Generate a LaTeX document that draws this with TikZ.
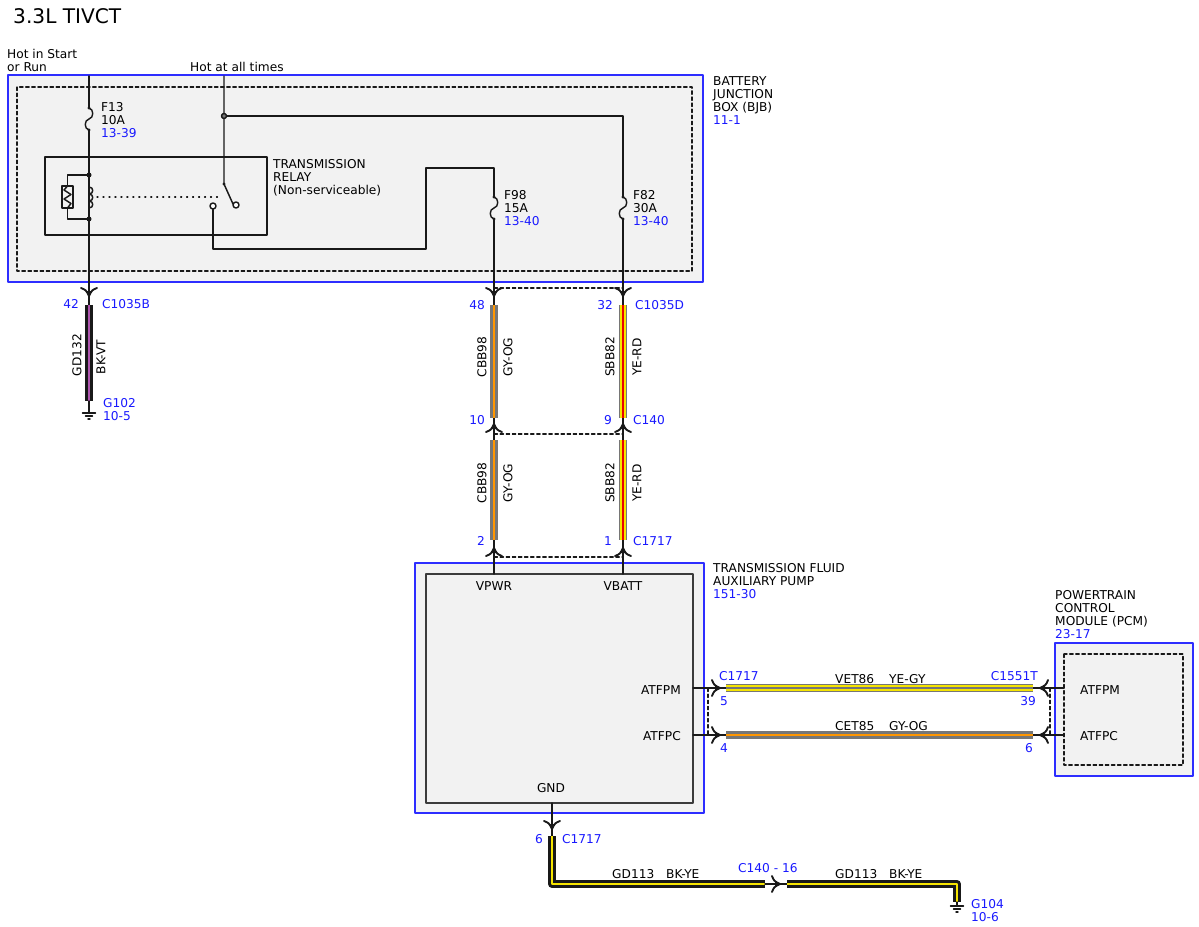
\documentclass[tikz,border=0pt]{standalone}
\usepackage{fontspec}
\setmainfont{DejaVu Sans}
\definecolor{refblue}{RGB}{25,25,255}
\definecolor{boxblue}{RGB}{45,45,255}
\definecolor{bgray}{RGB}{242,242,242}
\definecolor{wgray}{RGB}{118,118,118}
\definecolor{worange}{RGB}{255,150,0}
\definecolor{wyellow}{RGB}{245,228,0}
\definecolor{wred}{RGB}{235,0,0}
\definecolor{wviolet}{RGB}{175,85,175}
\definecolor{wblack}{RGB}{25,25,25}
\newcommand{\lblfont}{\fontsize{10.4}{11.1}\selectfont}
% harness wire: outer colour, stripe colour, path
\newcommand{\harn}[3]{\draw[line width=6.8pt,line cap=butt,#1] #3;
  \draw[line width=1.9pt,line cap=butt,#2] #3;}
% harness wire with border: border, base, stripe, path
\newcommand{\harnb}[4]{\draw[line width=6.8pt,line cap=butt,#1] #4;
  \draw[line width=5pt,line cap=butt,#2] #4;
  \draw[line width=1.7pt,line cap=butt,#3] #4;}
\tikzset{
  conn/.pic={\draw[line width=1.6pt,wblack] (-8,-8) .. controls (-3,-6) .. (0,0)
      .. controls (3,-6) .. (8,-8);
    \fill[wblack] (0,1.5) -- (-2.8,-5) -- (2.8,-5) -- cycle;},
  fuse/.pic={\draw[line width=1.2pt,wblack] (0,0) .. controls (5,1) and (5,10) .. (0,11)
      .. controls (-5,12) and (-5,21) .. (0,22);
    \fill[wblack] (0,0) circle (1.7) (0,22) circle (1.7);},
  gnd/.pic={\draw[line width=1.2pt,wblack] (-6.5,0) -- (6.5,0) (-3.5,3) -- (3.5,3)
      (-1,6) -- (1,6);}
}
\begin{document}
\begin{tikzpicture}[x=0.03cm,y=-0.03cm,line cap=round,line join=round,
  wire/.style={line width=1.25pt,wblack},
  lbl/.style={font=\lblfont,inner sep=0pt,align=left},
  ref/.style={lbl,text=refblue},
  blue box/.style={draw=boxblue,line width=1.3pt,fill=bgray},
  dash box/.style={draw=wblack,line width=1pt,dash pattern=on 3pt off 2.2pt},
  dash link/.style={draw=wblack,line width=0.9pt,dash pattern=on 3pt off 2.2pt}]
\useasboundingbox (0,0) rectangle (1199,927);
% tieu de
\node[lbl,font=\fontsize{17.2}{20}\selectfont,anchor=base west] (title) at (13,24) {3.3L TIVCT};
% cac hop
\draw[blue box] (8,75) rectangle (703,282);
\draw[dash box] (17,87) rectangle (692,271);
\draw[line width=1.2pt,wblack] (45,157) rectangle (267,235);
\draw[blue box] (415,563) rectangle (704,813);
\draw[line width=1.3pt,wblack!85,fill=bgray] (426,574) rectangle (693,803);
\draw[blue box] (1055,643) rectangle (1193,776);
\draw[dash box] (1064,654) rectangle (1183,765);
% cac diem
\coordinate (f13) at (89,108);
\coordinate (f98) at (494,197);
\coordinate (f82) at (623,197);
\coordinate (k1) at (89,175);
\coordinate (k2) at (89,219);
\coordinate (sw) at (224,184);
\coordinate (no) at (213,206);
\coordinate (nc) at (236,205);
\coordinate (jn) at (224,116);
\coordinate (cb) at (89,296);
\coordinate (cd1) at (494,296);
\coordinate (cd2) at (623,296);
\coordinate (ca1) at (494,424);
\coordinate (ca2) at (623,424);
\coordinate (cp1) at (494,548);
\coordinate (cp2) at (623,548);
\coordinate (cm) at (720,688);
\coordinate (cc) at (720,735);
\coordinate (pm) at (1040,688);
\coordinate (pc) at (1040,735);
\coordinate (cg) at (552,829);
\coordinate (cs) at (780,884);
\coordinate (g102) at (89,413);
\coordinate (g104) at (957,906);
% cau chi, ro le
\pic at (f13) {fuse};
\pic at (f98) {fuse};
\pic at (f82) {fuse};
\draw[wire] (89,76) -- (f13);
\draw[wire] ([yshift=-22*0.03cm]f13) -- (k1) -- (k2) -- (cb);
\draw[wire] (k1) -| (67.5,186);
\draw[wire] (k2) -| (67.5,208);
\draw[wire] (62,186) rectangle (73,208);
\draw[wire] (67.5,186) -- (64,190) -- (71,194.5) -- (64,199) -- (71,203.5) -- (67.5,208);
\foreach \y in {187,194,201}
  \draw[wire] (89,\y) .. controls (94,\y) and (94,\y+7) .. (89,\y+7);
\draw[wblack,line width=1pt,dash pattern=on 0.9pt off 4.2pt] (97,197) -- (220,197);
\fill[wblack] (k1) circle (2.5) (k2) circle (2.5);
\draw[wire] (224,76) -- (sw) -- (233,204);
\fill[wblack] (sw) circle (1.7);
\draw[wire] (jn) -- (623,116) -- (f82);
\draw[wire,fill=wgray] (jn) circle (2.5);
\draw[wire] ([yshift=-3*0.03cm]no) -- (213,249) -- (426,249) -- (426,168) -- (494,168) -- (f98);
\draw[wire,fill=white] (no) circle (3) (nc) circle (3);
% day ra khoi BJB
\draw[wire] ([yshift=-22*0.03cm]f98) -- (494,305);
\draw[wire] ([yshift=-22*0.03cm]f82) -- (623,305);
\draw[wire] (cb) -- (89,305);
\draw[dash link] (494,288) -- (623,288);
\draw[dash link] (494,434) -- (623,434);
\draw[dash link] (494,557) -- (623,557);
\foreach \x in {494,623}{
  \draw[wire] (\x,418) -- (\x,440);
  \draw[wire] (\x,540) -- (\x,574);
}
\pic at (cb) {conn};
\pic at (cd1) {conn};
\pic at (cd2) {conn};
\pic[rotate=180] at (ca1) {conn};
\pic[rotate=180] at (ca2) {conn};
\pic[rotate=180] at (cp1) {conn};
\pic[rotate=180] at (cp2) {conn};
% day ha nhiet
\harn{wblack}{wviolet}{(89,305) -- (89,401)}
\draw[wire] (89,401) -- (g102);
\pic at (g102) {gnd};
\foreach \a/\b in {305/418,440/540}{
  \harn{wgray}{worange}{(494,\a) -- (494,\b)}
  \harnb{wgray}{wyellow}{wred}{(623,\a) -- (623,\b)}
}
% day sang PCM
\draw[wire] (693,688) -- (726,688);
\draw[wire] (693,735) -- (726,735);
\draw[wire] (1033,688) -- (1064,688);
\draw[wire] (1033,735) -- (1064,735);
\harnb{wgray}{wyellow}{wgray}{(726,688) -- (1033,688)}
\harn{wgray}{worange}{(726,735) -- (1033,735)}
\draw[dash link] (708,688) -- (708,735);
\draw[dash link] (1050,688) -- (1050,735);
\pic[rotate=90] at (cm) {conn};
\pic[rotate=90] at (cc) {conn};
\pic[rotate=-90] at (pm) {conn};
\pic[rotate=-90] at (pc) {conn};
% day mass
\draw[wire] (552,803) -- (552,836);
\pic at (cg) {conn};
\harn{wblack}{wyellow}{(552,836) -- (552,884) -- (765,884)}
\draw[wire] (765,884) -- (787,884);
\pic[rotate=90] at (cs) {conn};
\harn{wblack}{wyellow}{(787,884) -- (957,884) -- (957,902)}
\draw[wire] (957,902) -- (g104);
\pic at (g104) {gnd};
% chu
\node[lbl,anchor=north west] (hotrun) at (7,49) {Hot in Start\\or Run};
\node[lbl,anchor=base west] (hotall) at (190,71.5) {Hot at all times};
\node[lbl,anchor=north west] (bjb) at (713,76) {BATTERY\\JUNCTION\\BOX (BJB)\\\textcolor{refblue}{11-1}};
\node[lbl,anchor=north west] (lf13) at (101,102) {F13\\10A\\\textcolor{refblue}{13-39}};
\node[lbl,anchor=north west] (lf98) at (504,190) {F98\\15A\\\textcolor{refblue}{13-40}};
\node[lbl,anchor=north west] (lf82) at (633,190) {F82\\30A\\\textcolor{refblue}{13-40}};
\node[lbl,anchor=north west] (relay) at (273,159) {TRANSMISSION\\RELAY\\(Non-serviceable)};
\node[ref,anchor=base east] (p42) at (79,308) {42};
\node[ref,anchor=base west] (c1035b) at (102,308) {C1035B};
\node[lbl,rotate=90] (gd132) at (77,355) {GD132};
\node[lbl,rotate=90] (bkvt) at (101,357) {BK-VT};
\node[lbl,anchor=north west] (lg102) at (103,398) {\textcolor{refblue}{G102}\\\textcolor{refblue}{10-5}};
\node[ref,anchor=base east] (p48) at (485,309) {48};
\node[ref,anchor=base east] (p32) at (613,309) {32};
\node[ref,anchor=base west] (c1035d) at (635,309) {C1035D};
\node[ref,anchor=base east] (p10) at (485,424) {10};
\node[ref,anchor=base east] (p9) at (612,424) {9};
\node[ref,anchor=base west] (c140) at (633,424) {C140};
\node[ref,anchor=base east] (p2) at (485,545) {2};
\node[ref,anchor=base east] (p1) at (612,545) {1};
\node[ref,anchor=base west] (c1717a) at (633,545) {C1717};
\foreach \y in {357,483}{
  \node[lbl,rotate=90] at (482,\y) {CBB98};
  \node[lbl,rotate=90] at (508,\y) {GY-OG};
  \node[lbl,rotate=90] at (610,\y) {SBB82};
  \node[lbl,rotate=90] at (637,\y) {YE-RD};
}
\node[lbl,anchor=north west] (pump) at (713,563) {TRANSMISSION FLUID\\AUXILIARY PUMP\\\textcolor{refblue}{151-30}};
\node[lbl,anchor=base] (vpwr) at (494,590) {VPWR};
\node[lbl,anchor=base] (vbatt) at (623,590) {VBATT};
\node[lbl,anchor=base east] (atfpm) at (681,694) {ATFPM};
\node[lbl,anchor=base east] (atfpc) at (681,740) {ATFPC};
\node[lbl,anchor=base] (gnd) at (551,792) {GND};
\node[ref,anchor=base west] (c1717b) at (719,680) {C1717};
\node[ref,anchor=base west] (p5) at (720,705) {5};
\node[ref,anchor=base west] (p4) at (720,752) {4};
\node[lbl,anchor=base west] (vet86) at (835,683) {VET86};
\node[lbl,anchor=base west] (yegy) at (889,683) {YE-GY};
\node[lbl,anchor=base west] (cet85) at (835,730) {CET85};
\node[lbl,anchor=base west] (gyog) at (889,730) {GY-OG};
\node[ref,anchor=base east] (c1551t) at (1038,680) {C1551T};
\node[ref,anchor=base east] (p39) at (1036,705) {39};
\node[ref,anchor=base east] (p6a) at (1033,752) {6};
\node[lbl,anchor=north west] (pcm) at (1055,590) {POWERTRAIN\\CONTROL\\MODULE (PCM)\\\textcolor{refblue}{23-17}};
\node[lbl,anchor=base west] (patfpm) at (1080,694) {ATFPM};
\node[lbl,anchor=base west] (patfpc) at (1080,740) {ATFPC};
\node[ref,anchor=base east] (p6b) at (543,843) {6};
\node[ref,anchor=base west] (c1717c) at (562,843) {C1717};
\node[lbl,anchor=base west] (gd113a) at (612,878) {GD113};
\node[lbl,anchor=base west] (bkyea) at (666,878) {BK-YE};
\node[ref,anchor=base west] (c14016) at (738,872) {C140 - 16};
\node[lbl,anchor=base west] (gd113b) at (835,878) {GD113};
\node[lbl,anchor=base west] (bkyeb) at (889,878) {BK-YE};
\node[lbl,anchor=north west] (lg104) at (971,899) {\textcolor{refblue}{G104}\\\textcolor{refblue}{10-6}};
\end{tikzpicture}
\end{document}
